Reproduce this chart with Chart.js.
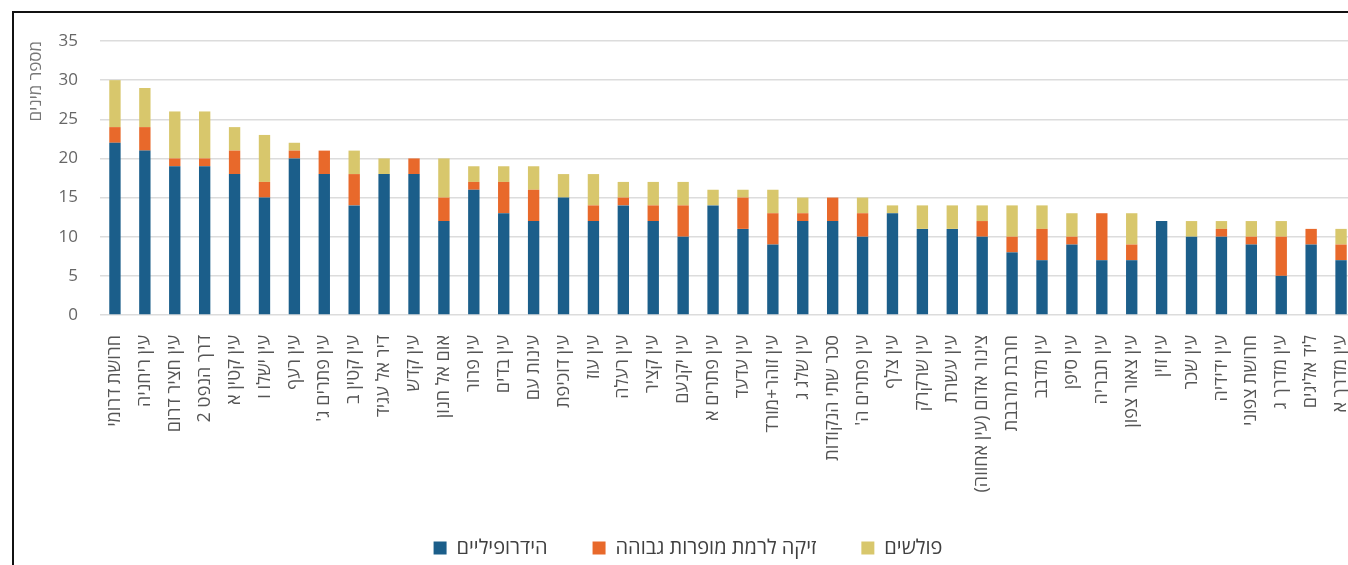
<!DOCTYPE html>
<html>
<head>
<meta charset="utf-8">
<script src="https://cdn.jsdelivr.net/npm/chart.js@4"></script>
<style>
  html, body { margin: 0; padding: 0; background: #fff; overflow: hidden; width: 1348px; height: 565px; }
  #frame { position: absolute; left: 12px; top: 11px; width: 1400px; height: 600px; border-left: 2px solid #111; border-top: 2px solid #111; }
  #wrap { position: absolute; left: 0; top: 0; width: 1396px; height: 568px; }
</style>
</head>
<body>
<div id="frame"></div>
<div id="wrap"><canvas id="c" width="1396" height="568" dir="rtl"></canvas></div>
<script>
const categories = [
  "חרושת דרומי", "עין ריחניה", "עין חציר דרום", "דרך הנפט 2", "עין קטין א",
  "עין ישלו ו", "עין רעף", "עין פתרים ג'", "עין קטין ב", "דיר אל עגיד",
  "עין קדש", "אום אל חנון", "עין פרור", "עין בדים", "עינות עם",
  "עין דוכיפת", "עין עוז", "עין רעלה", "עין קציר", "עין יקנעם",
  "עין פתרים א", "עין עדעד", "עין זוהר+מורד", "עין שלג ג", "סכר שתי הנקודות",
  "עין פתרים ה'", "עין צלף", "עין שרקרק", "עין עשרת", "צינור אדום (עין אחווה)",
  "חרבת מרבבת", "עין מדבב", "עין סיפן", "עין תבריה", "עין צאור צפון",
  "עין זוין", "עין שכר", "עין ידידיה", "חרושת צפוני", "עין מדרך ג",
  "ליד אליגים", "עין מדרך א"
];
const hydrophilic = [22,21,19,19,18,15,20,18,14,18,18,12,16,13,12,15,12,14,12,10,14,11,9,12,12,10,13,11,11,10,8,7,9,7,7,12,10,10,9,5,9,7];
const salinity    = [2,3,1,1,3,2,1,3,4,0,2,3,1,4,4,0,2,1,2,4,0,4,4,1,3,3,0,0,0,2,2,4,1,6,2,0,0,1,1,5,2,2];
const invasive    = [6,5,6,6,3,6,1,0,3,2,0,5,2,2,3,3,4,2,3,3,2,1,3,2,0,2,1,3,3,2,4,3,3,0,4,0,2,1,2,2,0,2];
const seriesNames = ["הידרופיליים", "זיקה לרמת מופרות גבוהה", "פולשים"];
const yTicks = [0, 5, 10, 15, 20, 25, 30, 35];
const yTitle = "מספר מינים";

const FONT = "'Open Sans', 'Liberation Sans', 'DejaVu Sans', sans-serif";
const colors = ["#1B5E8A", "#E8692B", "#D8C76C"];

new Chart(document.getElementById('c'), {
  type: 'bar',
  data: {
    labels: categories,
    datasets: [
      { label: seriesNames[0], data: hydrophilic, backgroundColor: colors[0] },
      { label: seriesNames[1], data: salinity, backgroundColor: colors[1] },
      { label: seriesNames[2], data: invasive, backgroundColor: colors[2] }
    ]
  },
  options: {
    responsive: false,
    animation: false,
    devicePixelRatio: 1,
    layout: { padding: { left: 20, right: 40, top: 41, bottom: 0 } },
    datasets: { bar: { categoryPercentage: 1, barPercentage: 0.38 } },
    plugins: {
      tooltip: { enabled: false },
      legend: {
        position: 'bottom',
        labels: {
          font: { family: FONT, size: 20 },
          color: '#404040',
          boxWidth: 13, boxHeight: 13,
          padding: 45
        }
      }
    },
    scales: {
      x: {
        stacked: true,
        grid: { display: false, drawTicks: false },
        border: { display: false },
        ticks: {
          autoSkip: false, maxRotation: 90, minRotation: 90,
          padding: 20,
          color: '#555',
          font: { family: FONT, size: 18 }
        },
        afterFit: (s) => { s.height = 178; }
      },
      y: {
        stacked: true,
        min: 0, max: 35,
        afterBuildTicks: (s) => { s.ticks = yTicks.map(v => ({ value: v })); },
        grid: { color: '#dcdcdc', lineWidth: 1.5, drawTicks: false },
        border: { display: false },
        ticks: { padding: 22, color: '#666', font: { family: FONT, size: 17 } },
        title: {
          display: true, text: yTitle, align: 'end',
          color: '#777', font: { family: FONT, size: 17 },
          padding: { top: 6, bottom: 0 }
        },
        afterFit: (s) => { s.width = 80; }
      }
    }
  }
});
</script>
</body>
</html>
